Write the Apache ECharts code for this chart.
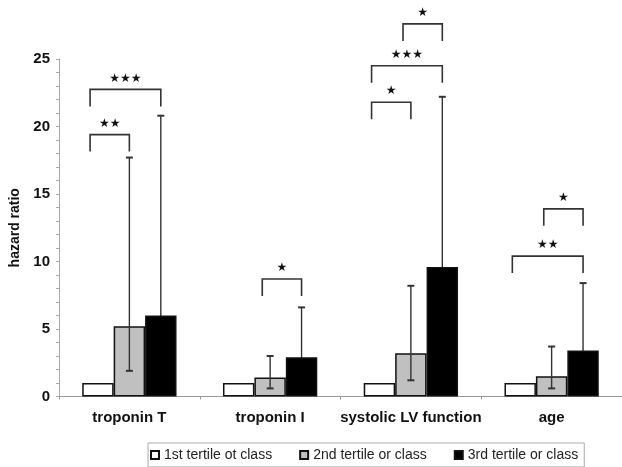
<!DOCTYPE html>
<html><head><meta charset="utf-8">
<script src="https://cdn.jsdelivr.net/npm/echarts@6/dist/echarts.min.js"></script>
<style>html,body{margin:0;padding:0;background:#fff}#c{width:622px;height:467px}</style>
</head><body><div id="c"></div>
<script>
const categories = ['troponin T', 'troponin I', 'systolic LV function', 'age'];
const seriesNames = ['1st tertile ot class', '2nd tertile or class', '3rd tertile or class'];
const firstTertile = [1, 1, 1, 1];
const secondTertile = [5.2, 1.4, 3.2, 1.5];
const thirdTertile = [6.0, 2.9, 9.6, 3.4];
const secondLow = [1.9, 0.6, 1.2, 0.6];
const secondHigh = [17.7, 3.0, 8.2, 3.7];
const thirdLow = [2.0, 1.2, 4.0, 1.4];
const thirdHigh = [20.8, 6.6, 22.2, 8.4];
const yTicks = [0, 5, 10, 15, 20, 25];
// significance brackets
const bracketCategory = [0, 0, 1, 2, 2, 2, 3, 3];
const bracketFrom = [0, 0, 1, 0, 0, 1, 0, 1];
const bracketTo = [1, 2, 2, 1, 2, 2, 2, 2];
const bracketTop = [19.4, 22.75, 8.7, 21.8, 24.5, 27.6, 10.4, 13.9];
const bracketStars = [2, 3, 1, 1, 3, 1, 2, 1];

const GROUP_FRAC = 0.67;
const LEG = 17;

const errSecond = categories.map((c, i) => [i, secondLow[i], secondHigh[i], 1]);
const errThird = categories.map((c, i) => [i, thirdLow[i], thirdHigh[i], 2]);
const brData = bracketCategory.map((c, i) => [c, bracketFrom[i], bracketTo[i], bracketTop[i], bracketStars[i]]);

function barW(api) { return api.size([1, 0])[0] * GROUP_FRAC / 3; }

function renderErr(params, api) {
  const cat = api.value(0), lo = api.value(1), hi = api.value(2), k = api.value(3);
  const bw = barW(api);
  const pLo = api.coord([cat, lo]), pHi = api.coord([cat, hi]);
  const x = pLo[0] + (k - 1) * bw;
  const cap = 3.5;
  const st = { stroke: '#333', lineWidth: 1.4 };
  return { type: 'group', children: [
    { type: 'line', shape: { x1: x, y1: pLo[1], x2: x, y2: pHi[1] }, style: st },
    { type: 'line', shape: { x1: x - cap, y1: pLo[1], x2: x + cap, y2: pLo[1] }, style: { stroke: '#333', lineWidth: 2 } },
    { type: 'line', shape: { x1: x - cap, y1: pHi[1], x2: x + cap, y2: pHi[1] }, style: { stroke: '#333', lineWidth: 2 } }
  ] };
}

function renderBracket(params, api) {
  const cat = api.value(0), from = api.value(1), to = api.value(2), top = api.value(3), n = api.value(4);
  const bw = barW(api);
  const c = api.coord([cat, top]);
  const xl = c[0] + (from - 1) * bw - 0.25 * bw;
  const xr = c[0] + (to - 1) * bw;
  const y = c[1];
  return { type: 'group', children: [
    { type: 'polyline', shape: { points: [[xl, y + LEG], [xl, y], [xr, y], [xr, y + LEG]] },
      style: { stroke: '#333', lineWidth: 1.6, fill: null } },
    { type: 'text', x: (xl + xr) / 2, y: y - 11,
      style: { text: '\u2605'.repeat(n), fontSize: 12, fill: '#111', align: 'center', verticalAlign: 'middle', fontFamily: 'DejaVu Sans' } }
  ] };
}

const chart = echarts.init(document.getElementById('c'), null, { renderer: 'canvas' });
const barStyle = (fill) => ({ color: fill, borderColor: '#111', borderWidth: 1.5 });
chart.setOption({
  backgroundColor: '#fff',
  animation: false,
  grid: { left: 59, width: 565, top: 59, bottom: 70.5, containLabel: false },
  legend: {
    data: seriesNames,
    left: 148, top: 443,
    orient: 'horizontal',
    icon: 'rect',
    itemWidth: 8, itemHeight: 8, itemGap: 27,
    padding: [5, 6, 5, 2],
    borderColor: '#aaa', borderWidth: 1,
    textStyle: { fontFamily: 'Liberation Sans', fontSize: 14, color: '#222' }
  },
  xAxis: {
    type: 'category', data: categories,
    axisLine: { lineStyle: { color: '#999', width: 1 } },
    axisTick: { show: true, length: 3, lineStyle: { color: '#999' } },
    axisLabel: { interval: 0, fontFamily: 'Liberation Sans', fontWeight: 'bold', fontSize: 15, color: '#111', margin: 14 }
  },
  yAxis: {
    type: 'value', min: yTicks[0], max: yTicks[yTicks.length - 1], interval: yTicks[1] - yTicks[0],
    name: 'hazard ratio', nameLocation: 'middle', nameGap: 36,
    nameTextStyle: { fontFamily: 'Liberation Sans', fontWeight: 'bold', fontSize: 14, color: '#111' },
    axisLine: { show: true, lineStyle: { color: '#aaa', width: 1 } },
    axisTick: { show: true, length: 3, lineStyle: { color: '#aaa' } },
    minorTick: { show: true, splitNumber: 5, length: 3, lineStyle: { color: '#aaa' } },
    splitLine: { show: false },
    axisLabel: { fontFamily: 'Liberation Sans', fontWeight: 'bold', fontSize: 15, color: '#111', margin: 9 }
  },
  series: [
    { name: seriesNames[0], type: 'bar', data: firstTertile, barGap: '0%', barCategoryGap: '33%', itemStyle: barStyle('#ffffff'), z: 2 },
    { name: seriesNames[1], type: 'bar', data: secondTertile, barGap: '0%', barCategoryGap: '33%', itemStyle: barStyle('#c0c0c0'), z: 2 },
    { name: seriesNames[2], type: 'bar', data: thirdTertile, barGap: '0%', barCategoryGap: '33%', itemStyle: barStyle('#000000'), z: 2 },
    { type: 'custom', renderItem: renderErr, data: errSecond, encode: { x: 0, y: [1, 2] }, z: 5, clip: false, silent: true },
    { type: 'custom', renderItem: renderErr, data: errThird, encode: { x: 0, y: [1, 2] }, z: 1, clip: false, silent: true },
    { type: 'custom', renderItem: renderBracket, data: brData, encode: { x: 0, y: 3 }, z: 5, clip: false, silent: true }
  ]
});
</script>
</body></html>
